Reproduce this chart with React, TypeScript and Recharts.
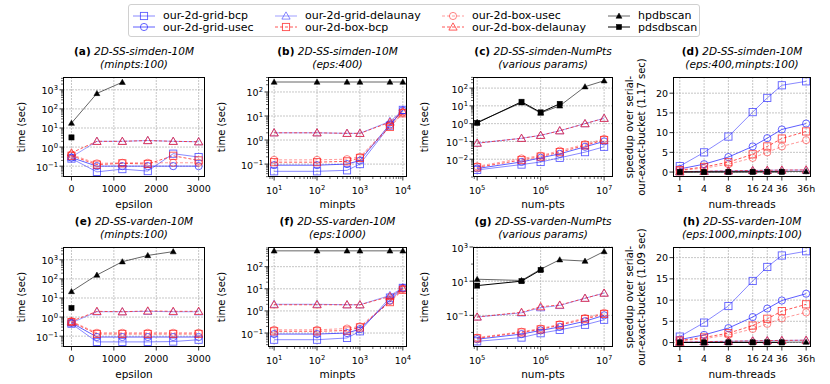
import React from 'react';
import { LineChart, Line, XAxis, YAxis, CartesianGrid } from 'recharts';

const FONT = '"DejaVu Sans", Verdana, sans-serif';

// x values of the four kinds of panels
const epsVals = [0, 600, 1200, 1800, 2400, 3000];
const minptsVals = [10, 100, 500, 1000, 5000, 10000];
const numPtsVals = [1e5, 5e5, 1e6, 2e6, 5e6, 1e7];
const threadLabels = ['1', '4', '8', '16', '24', '36', '36h'];
const threadPos = [0, 1, 2, 3, 3.6, 4.2, 5.2];

type Vals = Record<string, (number | null)[]>;

// (a) 2D-SS-simden-10M, minpts 100
const simdenEps: Vals = {
  gridBcp: [0.25, 0.05, 0.07, 0.055, 0.45, 0.3],
  gridUsec: [0.28, 0.1, 0.1, 0.1, 0.1, 0.1],
  gridDelaunay: [0.3, 2.0, 2.0, 2.2, 2.0, 1.9],
  boxBcp: [0.35, 0.12, 0.14, 0.13, 0.35, 0.2],
  boxUsec: [0.4, 0.14, 0.15, 0.15, 0.15, 0.15],
  boxDelaunay: [0.5, 2.0, 2.0, 2.2, 2.0, 1.9],
  hpdbscan: [18, 650, 2500, null, null, null],
  pdsdbscan: [3.2, null, null, null, null, null],
};

// (b) 2D-SS-simden-10M, eps 400
const simdenMinpts: Vals = {
  gridBcp: [0.05, 0.05, 0.055, 0.1, 4.0, 18],
  gridUsec: [0.09, 0.09, 0.1, 0.14, 4.5, 17],
  gridDelaunay: [2.0, 2.0, 1.9, 1.9, 6.0, 17],
  boxBcp: [0.12, 0.12, 0.13, 0.18, 3.5, 13],
  boxUsec: [0.15, 0.15, 0.16, 0.2, 4.0, 14],
  boxDelaunay: [2.0, 2.0, 1.9, 1.9, 5.5, 15],
  hpdbscan: [260, 260, 260, 260, 260, 260],
  pdsdbscan: [null, null, null, null, null, null],
};

// (c) 2D-SS-simden-NumPts
const simdenNumPts: Vals = {
  gridBcp: [0.0025, 0.005, 0.007, 0.012, 0.025, 0.05],
  gridUsec: [0.003, 0.007, 0.012, 0.02, 0.05, 0.1],
  gridDelaunay: [0.08, 0.15, 0.22, 0.4, 1.0, 2.0],
  boxBcp: [0.0035, 0.009, 0.014, 0.025, 0.06, 0.12],
  boxUsec: [0.004, 0.011, 0.016, 0.03, 0.07, 0.14],
  boxDelaunay: [0.08, 0.15, 0.22, 0.4, 1.0, 2.0],
  hpdbscan: [1.2, 15, 4.0, 10, 120, 260],
  pdsdbscan: [1.1, 17, 4.3, 13, null, null],
};

// (d) 2D-SS-simden-10M speedup
const simdenThreads: Vals = {
  gridBcp: [1.5, 5.0, 9.0, 15.2, 18.8, 22, 23],
  gridUsec: [0.8, 2.0, 3.8, 6.5, 8.6, 10.8, 12.3],
  gridDelaunay: [0.1, 0.2, 0.3, 0.4, 0.45, 0.5, 0.5],
  boxBcp: [0.5, 1.3, 2.5, 4.5, 6.5, 8.5, 10.3],
  boxUsec: [0.4, 1.0, 2.0, 3.6, 5.0, 6.5, 8.1],
  boxDelaunay: [0.05, 0.2, 0.3, 0.4, 0.45, 0.5, 0.55],
  hpdbscan: [0.02, 0.04, 0.06, 0.08, 0.1, 0.12, 0.15],
  pdsdbscan: [0.02, 0.03, 0.04, 0.05, 0.05, 0.05, null],
};

// (e) 2D-SS-varden-10M, minpts 100
const vardenEps: Vals = {
  gridBcp: [0.45, 0.05, 0.05, 0.05, 0.052, 0.065],
  gridUsec: [0.5, 0.09, 0.09, 0.09, 0.09, 0.09],
  gridDelaunay: [0.5, 1.9, 1.9, 2.0, 1.9, 1.9],
  boxBcp: [0.55, 0.13, 0.13, 0.13, 0.13, 0.13],
  boxUsec: [0.6, 0.15, 0.15, 0.15, 0.15, 0.15],
  boxDelaunay: [0.6, 2.0, 1.9, 2.1, 2.0, 2.0],
  hpdbscan: [22, 160, 800, 1700, 2700, null],
  pdsdbscan: [3.0, null, null, null, null, null],
};

// (f) 2D-SS-varden-10M, eps 1000
const vardenMinpts: Vals = {
  gridBcp: [0.05, 0.05, 0.06, 0.12, 4.0, 11],
  gridUsec: [0.09, 0.09, 0.1, 0.15, 3.0, 11],
  gridDelaunay: [2.0, 2.0, 1.9, 1.9, 5.0, 11],
  boxBcp: [0.12, 0.12, 0.13, 0.18, 2.5, 9],
  boxUsec: [0.14, 0.14, 0.16, 0.2, 2.8, 10],
  boxDelaunay: [1.9, 1.9, 1.9, 1.9, 4.5, 10],
  hpdbscan: [520, 520, 520, 520, 520, 520],
  pdsdbscan: [null, null, null, null, null, null],
};

// (g) 2D-SS-varden-NumPts
const vardenNumPts: Vals = {
  gridBcp: [0.003, 0.005, 0.009, 0.014, 0.028, 0.055],
  gridUsec: [0.004, 0.008, 0.013, 0.021, 0.045, 0.1],
  gridDelaunay: [0.08, 0.14, 0.28, 0.38, 1.0, 2.0],
  boxBcp: [0.0045, 0.01, 0.015, 0.027, 0.06, 0.12],
  boxUsec: [0.005, 0.011, 0.017, 0.03, 0.07, 0.14],
  boxDelaunay: [0.08, 0.15, 0.32, 0.4, 1.0, 2.0],
  hpdbscan: [13, 11, 50, 180, 150, 550],
  pdsdbscan: [5.5, 10, 45, null, null, null],
};

// (h) 2D-SS-varden-10M speedup
const vardenThreads: Vals = {
  gridBcp: [1.4, 4.7, 8.6, 14.5, 17.8, 20.5, 21.5],
  gridUsec: [0.7, 1.8, 3.4, 6.0, 8.0, 9.9, 11.5],
  gridDelaunay: [0.1, 0.2, 0.3, 0.4, 0.45, 0.5, 0.55],
  boxBcp: [0.5, 1.2, 2.2, 4.0, 5.6, 7.4, 9.0],
  boxUsec: [0.4, 0.9, 1.8, 3.2, 4.4, 5.7, 7.1],
  boxDelaunay: [0.05, 0.2, 0.3, 0.4, 0.45, 0.5, 0.55],
  hpdbscan: [0.02, 0.03, 0.05, 0.06, 0.07, 0.08, 0.1],
  pdsdbscan: [0.01, 0.02, 0.03, 0.03, 0.03, 0.03, null],
};

type Shape = 'square' | 'circle' | 'triangle';
interface SeriesDef {
  key: string;
  name: string;
  color: string;
  mark: string;
  dash?: string;
  shape: Shape;
  filled?: boolean;
}

const SERIES: SeriesDef[] = [
  { key: 'gridBcp', name: 'our-2d-grid-bcp', color: 'rgba(40,40,255,0.55)', mark: 'rgba(40,40,255,0.75)', shape: 'square' },
  { key: 'gridUsec', name: 'our-2d-grid-usec', color: 'rgba(40,40,255,0.75)', mark: 'rgba(40,40,255,0.8)', shape: 'circle' },
  { key: 'gridDelaunay', name: 'our-2d-grid-delaunay', color: 'rgba(40,40,255,0.45)', mark: 'rgba(40,40,255,0.6)', shape: 'triangle' },
  { key: 'boxBcp', name: 'our-2d-box-bcp', color: 'rgba(255,30,30,0.75)', mark: 'rgba(255,30,30,0.8)', dash: '3 2', shape: 'square' },
  { key: 'boxUsec', name: 'our-2d-box-usec', color: 'rgba(255,30,30,0.45)', mark: 'rgba(255,30,30,0.6)', dash: '3 2', shape: 'circle' },
  { key: 'boxDelaunay', name: 'our-2d-box-delaunay', color: 'rgba(255,30,30,0.75)', mark: 'rgba(255,30,30,0.8)', dash: '3 2', shape: 'triangle' },
  { key: 'hpdbscan', name: 'hpdbscan', color: 'rgba(0,0,0,0.6)', mark: '#000', shape: 'triangle', filled: true },
  { key: 'pdsdbscan', name: 'pdsdbscan', color: '#000', mark: '#000', shape: 'square', filled: true },
];

const Marker = ({ cx, cy, s }: { cx: number; cy: number; s: SeriesDef }) => {
  const r = s.filled ? 2.6 : 3.6;
  const fill = s.filled ? s.mark : 'none';
  const sw = s.filled ? 0.5 : 0.9;
  if (s.shape === 'square')
    return <rect x={cx - r} y={cy - r} width={2 * r} height={2 * r} fill={fill} stroke={s.mark} strokeWidth={sw} />;
  if (s.shape === 'circle') return <circle cx={cx} cy={cy} r={r} fill={fill} stroke={s.mark} strokeWidth={sw} />;
  const t = r * 1.15;
  return (
    <polygon
      points={`${cx},${cy - t} ${cx - t},${cy + t * 0.75} ${cx + t},${cy + t * 0.75}`}
      fill={fill}
      stroke={s.mark}
      strokeWidth={sw}
    />
  );
};

const renderDot = (s: SeriesDef) => (props: any) => {
  const { cx, cy, index } = props;
  const k = `${s.key}-${index}`;
  if (cy == null || cx == null || isNaN(cy)) return <g key={k} />;
  return (
    <g key={k}>
      <Marker cx={cx} cy={cy} s={s} />
    </g>
  );
};

function logTicks(lo: number, hi: number) {
  const out: number[] = [];
  for (let d = Math.floor(Math.log10(lo)); d <= Math.ceil(Math.log10(hi)); d++) {
    for (let k = 1; k < 10; k++) {
      const v = k * Math.pow(10, d);
      if (v >= lo && v <= hi) out.push(v);
    }
  }
  return out;
}

const isIn = (arr: number[], v: number) => arr.some((m) => Math.abs(m - v) <= Math.abs(m) * 1e-6 + 1e-12);
const expOf = (v: number) => {
  const e = Math.round(Math.log10(v));
  return e < 0 ? `\u2212${-e}` : `${e}`;
};

const TICK_FS = 9.5;

interface PanelCfg {
  left: number;
  top: number;
  w: number;
  h: number;
  xs: number[];
  vals: Vals;
  xLog: boolean;
  xDomain: [number, number];
  xTicks: number[];
  xMajors: number[];
  xLabels?: string[];
  yLog: boolean;
  yDomain: [number, number];
  yTicks: number[];
  yMajors: number[];
  tag: string;
  title: string;
  sub: string;
  xLabel: string;
  yLabel: string[];
  yLabelX: number;
}

const YW = 50;
const XH = 26;
const MT = 4;
const MR = 24;

const Panel = ({ p }: { p: PanelCfg }) => {
  const rows = p.xs.map((x, i) => {
    const r: Record<string, number | null> = { x };
    SERIES.forEach((s) => {
      r[s.key] = p.vals[s.key][i];
    });
    return r;
  });

  const xTick = (props: any) => {
    const { x, y, payload, index } = props;
    const v = payload.value;
    const major = isIn(p.xMajors, v);
    let label: React.ReactNode = null;
    if (major) {
      if (p.xLog) {
        label = (
          <text x={x} y={y + 17} textAnchor="middle" fontSize={TICK_FS} fontFamily={FONT} fill="#000">
            10
            <tspan dy={-4} fontSize={6.8}>
              {expOf(v)}
            </tspan>
          </text>
        );
      } else {
        const txt = p.xLabels ? p.xLabels[p.xTicks.indexOf(v)] : `${v}`;
        label = (
          <text x={x} y={y + 14.5} textAnchor="middle" fontSize={TICK_FS} fontFamily={FONT} fill="#000">
            {txt}
          </text>
        );
      }
    }
    return (
      <g key={`xt-${index}`}>
        <line x1={x} x2={x} y1={y} y2={y + (major ? 3.5 : 2)} stroke="#000" strokeWidth={major ? 0.8 : 0.6} />
        {label}
      </g>
    );
  };

  const yTick = (props: any) => {
    const { x, y, payload, index } = props;
    const v = payload.value;
    const major = isIn(p.yMajors, v);
    let label: React.ReactNode = null;
    if (major) {
      label = p.yLog ? (
        <text x={x - 5} y={y + 4.5} textAnchor="end" fontSize={TICK_FS} fontFamily={FONT} fill="#000">
          10
          <tspan dy={-4} fontSize={6.8}>
            {expOf(v)}
          </tspan>
        </text>
      ) : (
        <text x={x - 5} y={y + 3.5} textAnchor="end" fontSize={TICK_FS} fontFamily={FONT} fill="#000">
          {v}
        </text>
      );
    }
    return (
      <g key={`yt-${index}`}>
        <line x1={x - (major ? 3.5 : 2)} x2={x} y1={y} y2={y} stroke="#000" strokeWidth={major ? 0.8 : 0.6} />
        {label}
      </g>
    );
  };

  const cy = p.top + p.h / 2;

  return (
    <>
      <div
        style={{
          position: 'absolute',
          left: p.left - 40,
          width: p.w + 80,
          top: p.top - 32,
          textAlign: 'center',
          fontSize: 10.5,
          lineHeight: '13px',
          whiteSpace: 'nowrap',
        }}
      >
        <b>{p.tag}</b> <i>{p.title}</i>
        <br />
        <i>{p.sub}</i>
      </div>
      <div style={{ position: 'absolute', left: p.left - YW, top: p.top - MT }}>
        <LineChart
          width={YW + p.w + MR}
          height={MT + p.h + XH}
          data={rows}
          margin={{ top: MT, right: MR, bottom: 0, left: 0 }}
        >
          <CartesianGrid
            horizontalValues={p.yMajors}
            verticalValues={p.xMajors}
            stroke="#b8b8b8"
            strokeWidth={0.8}
            strokeDasharray="2 1"
          />
          <XAxis
            dataKey="x"
            type="number"
            scale={p.xLog ? 'log' : 'linear'}
            domain={p.xDomain}
            allowDataOverflow
            ticks={p.xTicks}
            interval={0}
            tickSize={0}
            tickMargin={0}
            axisLine={false}
            tickLine={false}
            height={XH}
            tick={xTick}
          />
          <YAxis
            type="number"
            scale={p.yLog ? 'log' : 'linear'}
            domain={p.yDomain}
            allowDataOverflow
            ticks={p.yTicks}
            interval={0}
            tickSize={0}
            tickMargin={0}
            axisLine={false}
            tickLine={false}
            width={YW}
            tick={yTick}
          />
          {SERIES.map((s) => (
            <Line
              key={s.key}
              dataKey={s.key}
              type="linear"
              stroke={s.color}
              strokeWidth={1}
              strokeDasharray={s.dash}
              dot={renderDot(s)}
              activeDot={false}
              isAnimationActive={false}
            />
          ))}
        </LineChart>
      </div>
      <div
        style={{
          position: 'absolute',
          left: p.left,
          top: p.top,
          width: p.w,
          height: p.h,
          border: '1px solid #000',
          boxSizing: 'border-box',
          pointerEvents: 'none',
        }}
      />
      <div
        style={{
          position: 'absolute',
          left: p.left - 40,
          width: p.w + 80,
          top: p.top + p.h + 21,
          textAlign: 'center',
          fontSize: 10.5,
          lineHeight: '13px',
        }}
      >
        {p.xLabel}
      </div>
      <div
        style={{
          position: 'absolute',
          left: p.yLabelX,
          top: cy,
          transform: 'translate(-50%, -50%) rotate(-90deg)',
          whiteSpace: 'nowrap',
          textAlign: 'center',
          fontSize: 10,
          lineHeight: '12px',
        }}
      >
        {p.yLabel.map((l, i) => (
          <div key={i}>{l}</div>
        ))}
      </div>
    </>
  );
};

const COLS = [63, 268, 473, 673];
const WIDTHS = [142, 139, 140, 138];
const ROWS = [77, 247];
const YLX = [22, 222, 425, 636];

const epsDomain: [number, number] = [-200, 3150];
const mpDomain: [number, number] = [7.2, 12500];
const npDomain: [number, number] = [86000, 1.38e7];
const thDomain: [number, number] = [-0.28, 5.4];

const timeLabel = ['time (sec)'];

const panels: PanelCfg[] = [
  {
    left: COLS[0], top: ROWS[0], w: WIDTHS[0], h: 100, xs: epsVals, vals: simdenEps,
    xLog: false, xDomain: epsDomain, xTicks: [0, 1000, 2000, 3000], xMajors: [0, 1000, 2000, 3000],
    yLog: true, yDomain: [0.027, 4700], yTicks: logTicks(0.027, 4700), yMajors: [0.1, 1, 10, 100, 1000],
    tag: '(a)', title: '2D-SS-simden-10M', sub: '(minpts:100)', xLabel: 'epsilon', yLabel: timeLabel, yLabelX: YLX[0],
  },
  {
    left: COLS[1], top: ROWS[0], w: WIDTHS[1], h: 100, xs: minptsVals, vals: simdenMinpts,
    xLog: true, xDomain: mpDomain, xTicks: logTicks(mpDomain[0], mpDomain[1]), xMajors: [10, 100, 1000, 10000],
    yLog: true, yDomain: [0.029, 420], yTicks: logTicks(0.029, 420), yMajors: [0.1, 1, 10, 100],
    tag: '(b)', title: '2D-SS-simden-10M', sub: '(eps:400)', xLabel: 'minpts', yLabel: timeLabel, yLabelX: YLX[1],
  },
  {
    left: COLS[2], top: ROWS[0], w: WIDTHS[2], h: 100, xs: numPtsVals, vals: simdenNumPts,
    xLog: true, xDomain: npDomain, xTicks: logTicks(npDomain[0], npDomain[1]), xMajors: [1e5, 1e6, 1e7],
    yLog: true, yDomain: [0.001, 420], yTicks: logTicks(0.001, 420), yMajors: [0.01, 0.1, 1, 10, 100],
    tag: '(c)', title: '2D-SS-simden-NumPts', sub: '(various params)', xLabel: 'num-pts', yLabel: timeLabel, yLabelX: YLX[2],
  },
  {
    left: COLS[3], top: ROWS[0], w: WIDTHS[3], h: 100, xs: threadPos, vals: simdenThreads,
    xLog: false, xDomain: thDomain, xTicks: threadPos, xMajors: threadPos, xLabels: threadLabels,
    yLog: false, yDomain: [-1.25, 24.1], yTicks: [0, 5, 10, 15, 20], yMajors: [0, 5, 10, 15, 20],
    tag: '(d)', title: '2D-SS-simden-10M', sub: '(eps:400,minpts:100)', xLabel: 'num-threads',
    yLabel: ['speedup over serial-', 'our-exact-bucket (1.17 sec)'], yLabelX: YLX[3],
  },
  {
    left: COLS[0], top: ROWS[1], w: WIDTHS[0], h: 100, xs: epsVals, vals: vardenEps,
    xLog: false, xDomain: epsDomain, xTicks: [0, 1000, 2000, 3000], xMajors: [0, 1000, 2000, 3000],
    yLog: true, yDomain: [0.027, 4700], yTicks: logTicks(0.027, 4700), yMajors: [0.1, 1, 10, 100, 1000],
    tag: '(e)', title: '2D-SS-varden-10M', sub: '(minpts:100)', xLabel: 'epsilon', yLabel: timeLabel, yLabelX: YLX[0],
  },
  {
    left: COLS[1], top: ROWS[1], w: WIDTHS[1], h: 100, xs: minptsVals, vals: vardenMinpts,
    xLog: true, xDomain: mpDomain, xTicks: logTicks(mpDomain[0], mpDomain[1]), xMajors: [10, 100, 1000, 10000],
    yLog: true, yDomain: [0.0234, 776], yTicks: logTicks(0.0234, 776), yMajors: [0.1, 1, 10, 100],
    tag: '(f)', title: '2D-SS-varden-10M', sub: '(eps:1000)', xLabel: 'minpts', yLabel: timeLabel, yLabelX: YLX[1],
  },
  {
    left: COLS[2], top: ROWS[1], w: WIDTHS[2], h: 100, xs: numPtsVals, vals: vardenNumPts,
    xLog: true, xDomain: npDomain, xTicks: logTicks(npDomain[0], npDomain[1]), xMajors: [1e5, 1e6, 1e7],
    yLog: true, yDomain: [0.0014, 1000], yTicks: [0.01, 0.1, 1, 10, 100, 1000], yMajors: [0.1, 10, 1000],
    tag: '(g)', title: '2D-SS-varden-NumPts', sub: '(various params)', xLabel: 'num-pts', yLabel: timeLabel, yLabelX: YLX[2],
  },
  {
    left: COLS[3], top: ROWS[1], w: WIDTHS[3], h: 100, xs: threadPos, vals: vardenThreads,
    xLog: false, xDomain: thDomain, xTicks: threadPos, xMajors: threadPos, xLabels: threadLabels,
    yLog: false, yDomain: [-1.05, 22.5], yTicks: [0, 5, 10, 15, 20], yMajors: [0, 5, 10, 15, 20],
    tag: '(h)', title: '2D-SS-varden-10M', sub: '(eps:1000,minpts:100)', xLabel: 'num-threads',
    yLabel: ['speedup over serial-', 'our-exact-bucket (1.09 sec)'], yLabelX: YLX[3],
  },
];

const LEGEND_COLS = [133, 275, 442, 608];
const LEGEND_ROWS = [15.5, 27];

const LegendBox = () => (
  <>
    <div
      style={{
        position: 'absolute',
        left: 128,
        top: 4,
        width: 572,
        height: 33,
        border: '1px solid #d0d0d0',
        borderRadius: 3,
        boxSizing: 'border-box',
      }}
    />
    {SERIES.map((s, i) => {
      const col = Math.floor(i / 2);
      const row = i % 2;
      return (
        <div
          key={s.key}
          style={{
            position: 'absolute',
            left: LEGEND_COLS[col],
            top: LEGEND_ROWS[row] - 7,
            height: 14,
            display: 'flex',
            alignItems: 'center',
            whiteSpace: 'nowrap',
            fontSize: 11,
          }}
        >
          <svg width={22} height={14} style={{ marginRight: 8 }}>
            <line x1={0} x2={22} y1={7} y2={7} stroke={s.color} strokeWidth={1} strokeDasharray={s.dash} />
            <Marker cx={11} cy={7} s={s} />
          </svg>
          <span>{s.name}</span>
        </div>
      );
    })}
  </>
);

export default function App() {
  return (
    <div
      style={{
        position: 'relative',
        width: 830,
        height: 384,
        background: '#fff',
        fontFamily: FONT,
        color: '#000',
        overflow: 'hidden',
      }}
    >
      <style>{'body{margin:0}'}</style>
      <LegendBox />
      {panels.map((p) => (
        <Panel key={p.tag} p={p} />
      ))}
    </div>
  );
}
